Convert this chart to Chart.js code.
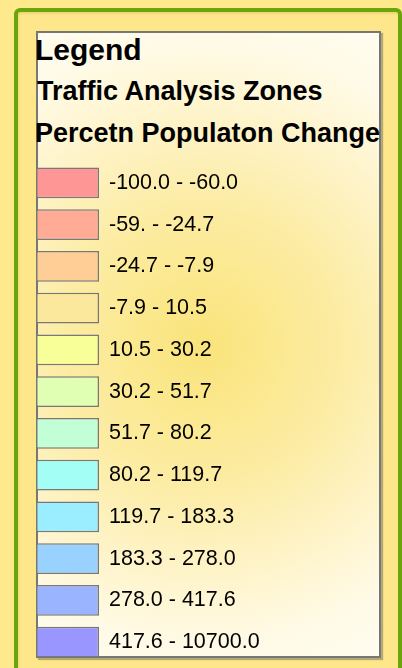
<!DOCTYPE html>
<html>
<head>
<meta charset="utf-8">
<script src="https://cdn.jsdelivr.net/npm/chart.js@4"></script>
<style>
  html, body { margin: 0; padding: 0; }
  body {
    width: 402px; height: 668px; overflow: hidden; position: relative;
    background: #fee98d;
    font-family: "Liberation Sans", Arial, sans-serif;
  }
  .frame {
    position: absolute; left: 14px; top: 8px; width: 388px; height: 700px;
    box-sizing: border-box;
    border: 4px solid #6ba50b; border-radius: 6px;
    background: #fde78a;
    box-shadow: inset 1px 2px 2px rgba(120, 100, 0, 0.12);
  }
  .box {
    position: absolute; left: 36px; top: 31px; width: 345px; height: 627px;
    box-sizing: border-box;
    border: 2px solid #777;
    box-shadow: 2px 2px 1px rgba(90, 90, 90, 0.45);
    background: radial-gradient(circle at 164px 312px,
      #f9e37a 0px, #fbe88c 60px, #fceca4 140px, #fef3c6 220px, #fffae6 300px, #fffef8 400px);
  }
  .title { position: absolute; font-weight: bold; color: #000; white-space: nowrap; }
  #t1 { left: 35px; top: 35px; font-size: 30px; line-height: 30px; }
  #t2 { left: 37px; top: 78px; font-size: 27px; line-height: 27px; }
  #t3 { left: 35px; top: 120px; font-size: 27px; line-height: 27px; }
  .chart-wrap { position: absolute; left: 36px; top: 162px; width: 345px; height: 501px; }
</style>
</head>
<body>
<div class="frame"></div>
<div class="box"></div>
<div class="title" id="t1">Legend</div>
<div class="title" id="t2">Traffic Analysis Zones</div>
<div class="title" id="t3">Percetn Populaton Change</div>
<div class="chart-wrap"><canvas id="legend-chart"></canvas></div>

<script>
// クラス区分（凡例の行）
const classLabels = [
  '-100.0 - -60.0', '-59. - -24.7', '-24.7 - -7.9', '-7.9 - 10.5',
  '10.5 - 30.2', '30.2 - 51.7', '51.7 - 80.2', '80.2 - 119.7',
  '119.7 - 183.3', '183.3 - 278.0', '278.0 - 417.6', '417.6 - 10700.0'
];
// 各区分の塗り色
const classColors = [
  '#ff9696', '#ffab96', '#ffcd96', '#fce89c',
  '#f8ff99', '#e0ffb3', '#c3ffd6', '#a3fff5',
  '#9beeff', '#9ad2ff', '#9ab4ff', '#9a96ff'
];
// 見本の長さ（全部同じ）
const swatchValues = [1, 1, 1, 1, 1, 1, 1, 1, 1, 1, 1, 1];

const AXIS_WIDTH = 282; // ラベル欄の幅

new Chart(document.getElementById('legend-chart'), {
  type: 'bar',
  data: {
    labels: classLabels,
    datasets: [{
      data: swatchValues,
      backgroundColor: classColors,
      borderColor: '#787878',
      borderWidth: 1.5,
      borderSkipped: false,
      categoryPercentage: 1,
      barPercentage: 0.74
    }]
  },
  options: {
    indexAxis: 'y',
    responsive: true,
    maintainAspectRatio: false,
    animation: false,
    layout: { padding: 0 },
    plugins: { legend: { display: false }, tooltip: { enabled: false } },
    scales: {
      x: { display: false, min: 0, max: 1 },
      y: {
        position: 'right',
        grid: { display: false, drawTicks: false },
        border: { display: false },
        ticks: {
          color: '#000',
          padding: 10,
          crossAlign: 'near',
          font: { family: '"Liberation Sans", Arial, sans-serif', size: 21.5 }
        },
        afterFit(scale) {
          scale.width = AXIS_WIDTH;
          scale.paddingTop = 0;
          scale.paddingBottom = 0;
        }
      }
    }
  }
});
</script>
</body>
</html>
